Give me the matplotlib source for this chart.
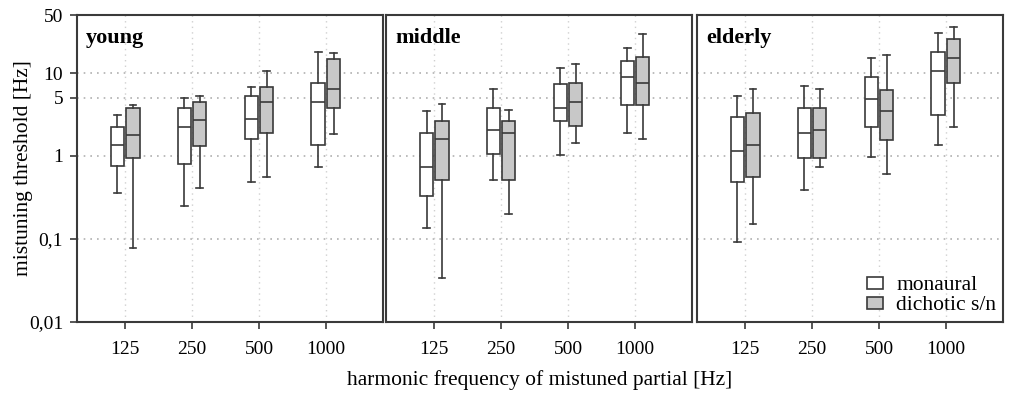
import numpy as np
import matplotlib.pyplot as plt
from matplotlib.patches import Patch

plt.rcParams['font.family'] = 'Liberation Serif'

freqs = ['125', '250', '500', '1000']
groups = ['young', 'middle', 'elderly']

# five-number summaries per group, one value per frequency
mono_lo = {'young': [0.36, 0.25, 0.49, 0.74],
           'middle': [0.136, 0.52, 1.04, 1.89],
           'elderly': [0.093, 0.39, 0.96, 1.34]}
mono_q1 = {'young': [0.76, 0.79, 1.58, 1.34],
           'middle': [0.33, 1.07, 2.66, 4.15],
           'elderly': [0.48, 0.95, 2.23, 3.15]}
mono_med = {'young': [1.34, 2.25, 2.81, 4.5],
            'middle': [0.73, 2.07, 3.79, 9.0],
            'elderly': [1.14, 1.89, 4.9, 10.7]}
mono_q3 = {'young': [2.25, 3.75, 5.28, 7.58],
           'middle': [1.87, 3.75, 7.43, 13.8],
           'elderly': [2.92, 3.75, 8.95, 17.9]}
mono_hi = {'young': [3.15, 5.0, 6.8, 18.1],
           'middle': [3.48, 6.35, 11.4, 20.0],
           'elderly': [5.33, 7.03, 15.2, 30.0]}

dich_lo = {'young': [0.077, 0.41, 0.56, 1.82],
           'middle': [0.034, 0.20, 1.43, 1.60],
           'elderly': [0.152, 0.73, 0.61, 2.25]}
dich_q1 = {'young': [0.94, 1.33, 1.89, 3.79],
           'middle': [0.52, 0.52, 2.27, 4.15],
           'elderly': [0.56, 0.94, 1.57, 7.5]}
dich_med = {'young': [1.79, 2.68, 4.5, 6.35],
            'middle': [1.60, 1.89, 4.47, 7.58],
            'elderly': [1.34, 2.07, 3.48, 15.2]}
dich_q3 = {'young': [3.79, 4.47, 6.8, 14.6],
           'middle': [2.66, 2.66, 7.5, 15.7],
           'elderly': [3.3, 3.75, 6.3, 25.4]}
dich_hi = {'young': [4.07, 5.3, 10.7, 17.4],
           'middle': [4.27, 3.54, 12.8, 29.5],
           'elderly': [6.35, 6.4, 16.6, 35.4]}

edge = '#3a3a3a'
gray = '#c8c8c8'

def stats(lo, q1, med, q3, hi):
    return [dict(whislo=a, q1=b, med=c, q3=d, whishi=e, fliers=[])
            for a, b, c, d, e in zip(lo, q1, med, q3, hi)]

fig = plt.figure(figsize=(10.09, 3.95), dpi=100)
lefts = [0.0763, 0.3826, 0.6908]
x = np.arange(1, 5)

for i, g in enumerate(groups):
    ax = fig.add_axes([lefts[i], 0.185, 0.303, 0.777])
    props = dict(linewidth=1.2, color=edge)
    for st, off, fc in [(stats(mono_lo[g], mono_q1[g], mono_med[g], mono_q3[g], mono_hi[g]), -0.115, 'white'),
                        (stats(dich_lo[g], dich_q1[g], dich_med[g], dich_q3[g], dich_hi[g]), 0.115, gray)]:
        ax.bxp(st, positions=x + off, widths=0.2, patch_artist=True, showfliers=False,
               boxprops=dict(facecolor=fc, edgecolor=edge, linewidth=1.2),
               medianprops=props, whiskerprops=props, capprops=props,
               capwidths=0.1, manage_ticks=False)
    ax.set_yscale('log')
    ax.set_ylim(0.01, 50)
    ax.set_xlim(0.28, 4.85)
    ax.set_xticks(x)
    ax.set_xticklabels(freqs, fontsize=14)
    ax.set_yticks([0.01, 0.1, 1, 5, 10, 50])
    ax.yaxis.set_minor_locator(plt.NullLocator())
    for y in [0.1, 1, 5, 10]:
        ax.axhline(y, color='#b0b0b0', linestyle=(0, (1, 3)), linewidth=1.2, zorder=0)
    for xv in x:
        ax.axvline(xv, color='#d0d0d0', linestyle=(0, (1, 3)), linewidth=1.0, zorder=0)
    if i == 0:
        ax.set_yticklabels(['0,01', '0,1', '1', '5', '10', '50'], fontsize=14)
        ax.set_ylabel('mistuning threshold [Hz]', fontsize=15.5, labelpad=-3)
        ax.tick_params(axis='y', length=5, width=1.2, color=edge, pad=5)
    else:
        ax.tick_params(axis='y', left=False, labelleft=False)
    ax.tick_params(axis='x', length=5, width=1.2, color=edge, pad=9)
    for s in ax.spines.values():
        s.set_linewidth(1.5)
        s.set_color(edge)
    ax.text(0.03, 0.925, g, transform=ax.transAxes, fontsize=16, fontweight='bold',
            va='center', ha='left')
    if i == 2:
        h = [Patch(facecolor='white', edgecolor=edge, linewidth=1.2, label='monaural'),
             Patch(facecolor=gray, edgecolor=edge, linewidth=1.2, label='dichotic s/n')]
        ax.legend(handles=h, loc='lower right', frameon=False, fontsize=15.5,
                  handlelength=0.75, handleheight=0.5, handletextpad=0.6,
                  labelspacing=0.05, borderaxespad=0.2, borderpad=0.1)

fig.text(0.535, 0.037, 'harmonic frequency of mistuned partial [Hz]', ha='center',
         va='center', fontsize=15.5)

fig.savefig('out.png', dpi=100)
